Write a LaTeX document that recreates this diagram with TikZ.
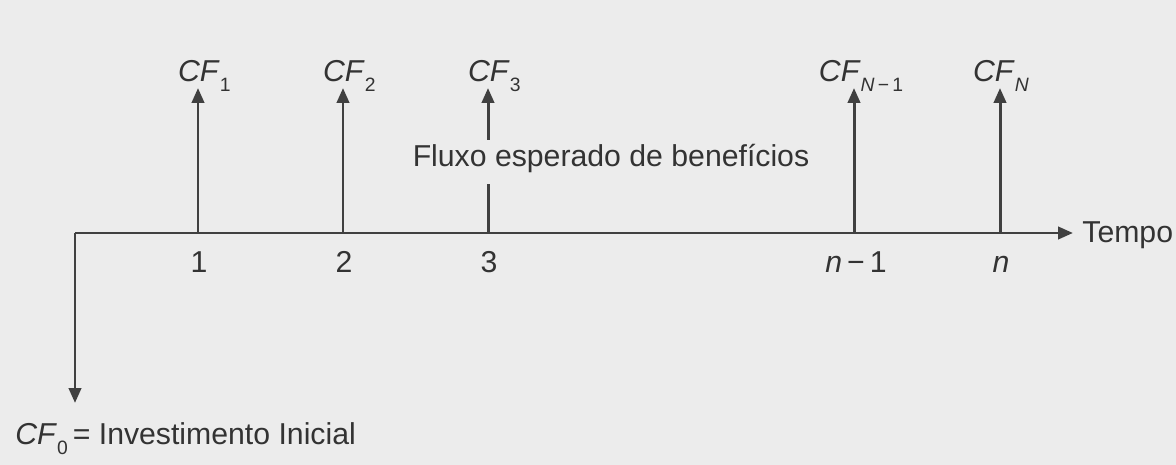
\documentclass[tikz,border=0pt]{standalone}
\usepackage{fontspec}
\setmainfont{Liberation Sans}
\usetikzlibrary{arrows.meta}

\newlength{\pu}
\setlength{\pu}{0.02cm}

\definecolor{papercolor}{rgb}{0.925, 0.925, 0.925}
\definecolor{linecolor}{rgb}{0.250, 0.250, 0.250}
\definecolor{textcolor}{rgb}{0.200, 0.200, 0.200}

\newcommand{\subfont}{\fontsize{11}{11}\selectfont}
\newcommand{\cfsub}[1]{\rlap{\raisebox{-0.3em}{\subfont #1}}}

\tikzset{
  flowline/.style={line width=1.7pt, draw=linecolor},
  flowarrow/.style={flowline, -{Triangle[length=8.5pt,width=7pt]}},
  cflabel/.style={anchor=base, inner sep=0pt, text=textcolor, font=\fontsize{17.2}{20}\selectfont},
}

\begin{document}
\begin{tikzpicture}[yscale=-1]
\fill[papercolor] (0\pu,0\pu) rectangle (1176\pu,465\pu);
% time axis
\coordinate (o) at (75\pu,233\pu);
\coordinate (e) at (1073\pu,233\pu);
\coordinate (d) at (75\pu,403\pu);
\coordinate (t1) at (198\pu,233\pu);
\coordinate (t2) at (343\pu,233\pu);
\coordinate (t3) at (488\pu,233\pu);
\coordinate (t4) at (854\pu,233\pu);
\coordinate (t5) at (1000\pu,233\pu);
% arrow tips
\coordinate (p1) at (198\pu,88\pu);
\coordinate (p2) at (343\pu,88\pu);
\coordinate (p3) at (488\pu,88\pu);
\coordinate (p4) at (854\pu,88\pu);
\coordinate (p5) at (1000\pu,88\pu);
% labels
\node[cflabel] (cf1) at (199\pu,82\pu) {\textit{CF}\cfsub{1}};
\node[cflabel] (cf2) at (344\pu,82\pu) {\textit{CF}\cfsub{2}};
\node[cflabel] (cf3) at (489\pu,82\pu) {\textit{CF}\cfsub{3}};
\node[cflabel] (cf4) at (861\pu,82\pu) {\textit{CF}\raisebox{-0.3em}{\subfont\textit{N}\,−\,1}};
\node[cflabel] (cf5) at (994\pu,82\pu) {\textit{CF}\cfsub{\textit{N}}};
\node[cflabel, anchor=center, inner ysep=0pt, minimum height=44\pu, text height=0.75em, text depth=0.22em] (flux) at (611\pu,162\pu) {Fluxo esperado de benefícios};
\node[cflabel] (n1) at (199\pu,273\pu) {1};
\node[cflabel] (n2) at (344\pu,273\pu) {2};
\node[cflabel] (n3) at (489\pu,273\pu) {3};
\node[cflabel] (n4) at (856\pu,273\pu) {\textit{n}\,−\,1};
\node[cflabel] (n5) at (1001\pu,273\pu) {\textit{n}};
\node[cflabel, anchor=base west] (tempo) at (1082\pu,243\pu) {Tempo};
\node[cflabel, anchor=base west] (cf0) at (15\pu,445\pu) {\textit{CF}\raisebox{-0.3em}{\subfont 0}\,= Investimento Inicial};
% connectors
\draw[flowarrow] (o) -- (e);
\draw[flowarrow] (o) -- (d);
\draw[flowarrow] (t1) -- (p1);
\draw[flowarrow] (t2) -- (p2);
\draw[flowline] (t3) -- (t3 |- flux.south);
\draw[flowarrow] (t3 |- flux.north) -- (p3);
\draw[flowarrow] (t4) -- (p4);
\draw[flowarrow] (t5) -- (p5);
\end{tikzpicture}
\end{document}
